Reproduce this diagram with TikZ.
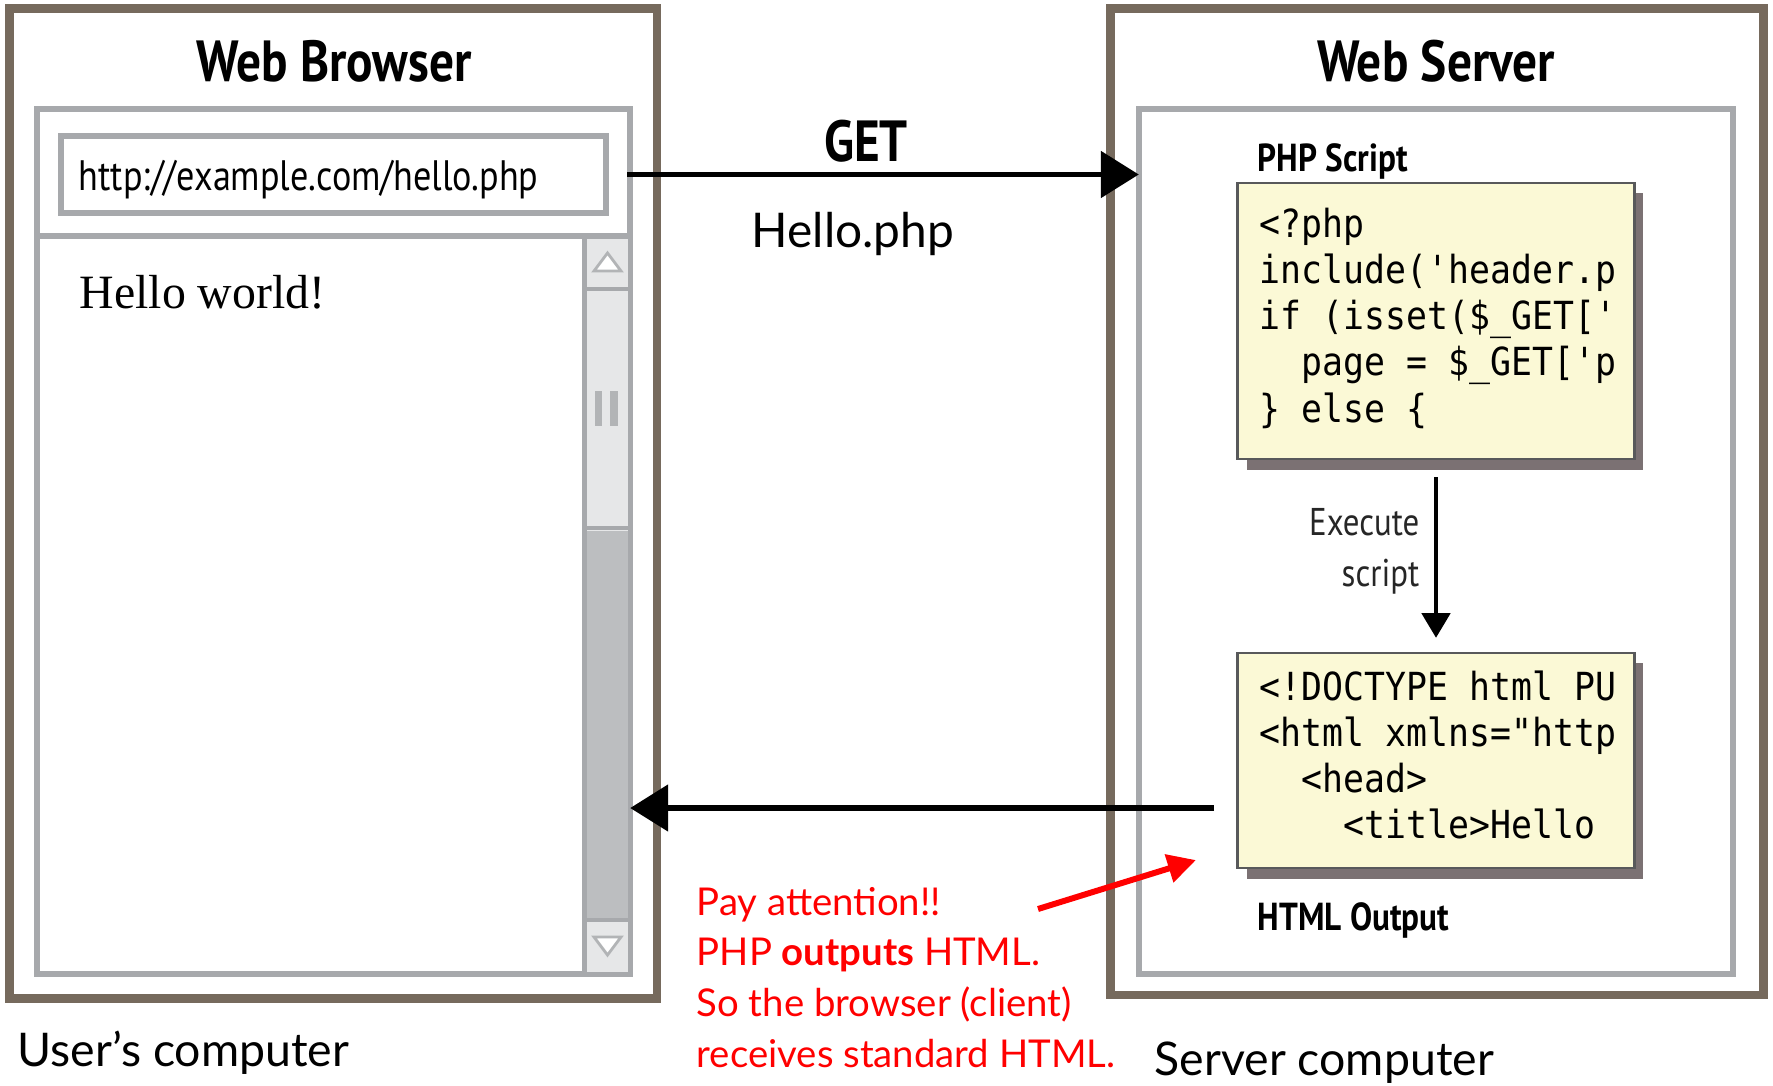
\documentclass[tikz,border=0pt]{standalone}
\usepackage{fontspec}
\setmainfont{Lato}
\setmonofont[FakeStretch=0.9]{DejaVu Sans Mono}
\newfontfamily\uifont[FakeStretch=0.85]{PT Sans}
\newfontfamily\pagefont{Liberation Serif}
\usepackage{tikz}
\usetikzlibrary{arrows.meta,calc,shadows}

\definecolor{framebrown}{RGB}{118,106,93}
\definecolor{panegray}{RGB}{167,169,172}
\definecolor{thumbgray}{RGB}{230,231,232}
\definecolor{trackgray}{RGB}{188,190,192}
\definecolor{gripgray}{RGB}{178,180,182}
\definecolor{codeyellow}{RGB}{251,249,214}
\definecolor{codeedge}{RGB}{88,89,91}
\definecolor{shadowgray}{RGB}{123,113,115}
\definecolor{alertred}{RGB}{255,0,0}

\begin{document}
\begin{tikzpicture}[
        x=0.01cm,
        y=-0.01cm,
        frame/.style={draw=framebrown, line width=2.4pt, outer sep=0pt},
        pane/.style={draw=panegray, line width=1.8pt, outer sep=0pt},
        codebox/.style={draw=codeedge, fill=codeyellow, line width=0.8pt, outer sep=0pt,
            minimum width=3.96cm,
            drop shadow={shadow xshift=2.6pt, shadow yshift=-3pt, fill=shadowgray, opacity=1}},
        codeline/.style={font=\ttfamily\fontsize{11}{13}\selectfont, anchor=base west, inner sep=0pt},
        title/.style={font=\uifont\bfseries\fontsize{16.5}{19}\selectfont, anchor=base, inner sep=0pt},
        caption/.style={font=\uifont\bfseries\fontsize{11.1}{13}\selectfont, anchor=base west, inner sep=0pt},
        steplbl/.style={font=\uifont\fontsize{11}{13}\selectfont, text=black!85, anchor=base east, inner sep=0pt},
        note/.style={font=\fontsize{10.9}{14}\selectfont, text=alertred, anchor=base west, inner sep=0pt},
        slide/.style={font=\fontsize{13.2}{16}\selectfont, anchor=base west, inner sep=0pt},
        bigarrow/.style={line width=1.7pt, -{Triangle[length=10.8pt, width=13pt]}},
        steparrow/.style={line width=1.2pt, -{Triangle[length=7pt, width=8pt]}},
        alertarrow/.style={draw=alertred, line width=1.7pt, -{Triangle[length=8pt, width=8pt]}}
    ]
        \path[use as bounding box, fill=white] (0,0) rectangle (1773,1085);

        % client side: browser window
        \node[frame, minimum width=6.475cm, minimum height=9.89cm] (userframe) at (333.25,503.5) {};
        \node[pane, minimum width=5.93cm, minimum height=8.65cm] (browserpane) at (333.5,541.5) {};
        \node[title] (browsertitle) at (334,82) {Web Browser};
        \node[pane, line width=1.7pt, minimum width=5.45cm, minimum height=0.77cm] (urlbar) at (333.5,174.5) {};
        \node[font=\uifont\fontsize{12.1}{14}\selectfont, anchor=base west, inner sep=0pt] (urltext) at (78,190) {http://example.com/hello.php};
        \draw[pane] (37,236) -- (630,236);
        \node[font=\pagefont\fontsize{13.6}{16}\selectfont, anchor=base west, inner sep=0pt] (pagetext) at (79,308) {Hello world!};

        % scrollbar
        \fill[thumbgray] (587,239) rectangle (628,972);
        \fill[trackgray] (587,531) rectangle (628,918);
        \draw[pane, line width=1.4pt] (584.5,236) -- (584.5,974);
        \foreach \y in {289,528,920}
            \draw[pane, line width=1.2pt] (584.5,\y) -- (630,\y);
        \draw[gripgray, fill=white, line width=0.8pt] (594,271) -- (621,271) -- (607.5,253) -- cycle;
        \draw[gripgray, fill=white, line width=0.8pt] (594,937) -- (621,937) -- (607.5,955) -- cycle;
        \draw[gripgray, line width=2pt] (598.5,391) -- (598.5,426) (614,391) -- (614,426);

        % server side
        \node[frame, minimum width=6.53cm, minimum height=9.855cm] (serverframe) at (1437,501.75) {};
        \node[pane, minimum width=5.94cm, minimum height=8.65cm] (serverpane) at (1436,541.5) {};
        \node[title] (servertitle) at (1436,82) {Web Server};

        \node[caption] (phplbl) at (1257,172) {PHP Script};
        \node[codebox, minimum height=2.76cm] (phpbox) at (1436,321) {};
        \foreach \i/\ind/\ln in {0/0/{<?php}, 1/0/{include('header.p}, 2/0/{if (isset(\$\_GET['},
                3/2/{page = \$\_GET['p}, 4/0/{\} else \{}}
            \node[codeline] (php\i) at (1259+\ind*21,237+\i*46.3) {\ln};

        \node[codebox, minimum height=2.15cm] (htmlbox) at (1436,760.5) {};
        \foreach \i/\ind/\ln in {0/0/{<!DOCTYPE html PU}, 1/0/{<html xmlns="http}, 2/2/{<head>},
                3/4/{<title>Hello}}
            \node[codeline] (html\i) at (1259+\ind*21,700+\i*46) {\ln};
        \node[caption] (htmllbl) at (1257,930) {HTML Output};

        \draw[steparrow, shorten <=5.1pt, shorten >=4.3pt] (phpbox.south) -- (htmlbox.north);
        \node[steplbl] (execlbl) at (1420,535) {Execute};
        \node[steplbl] (scriptlbl) at (1420,586) {script};

        % request and response
        \draw[bigarrow, shorten <=6pt] (urlbar.east) -- (urlbar.east -| serverpane.west);
        \node[title] (getlbl) at (866,162) {GET};
        \node[slide, font=\fontsize{13.6}{16}\selectfont, anchor=base] (reqlbl) at (853,248) {Hello.php};

        \coordinate (retfrom) at (1214,808);
        \draw[bigarrow] (retfrom) -- (retfrom -| browserpane.east);

        % remark
        \foreach \i/\ln in {0/{Pay attention!!}, 1/{PHP \textbf{outputs} HTML.},
                2/{So the browser (client)}, 3/{receives standard HTML.}}
            \node[note] (note\i) at (696,915+\i*50.7) {\ln};
        \coordinate (attnfrom) at (1038,909);
        \draw[alertarrow] (attnfrom) -- ($(htmlbox.south west)+(-42,-8)$);

        \node[slide] (userlbl) at (17,1066) {User’s computer};
        \node[slide] (serverlbl) at (1154,1075) {Server computer};
    \end{tikzpicture}
\end{document}
